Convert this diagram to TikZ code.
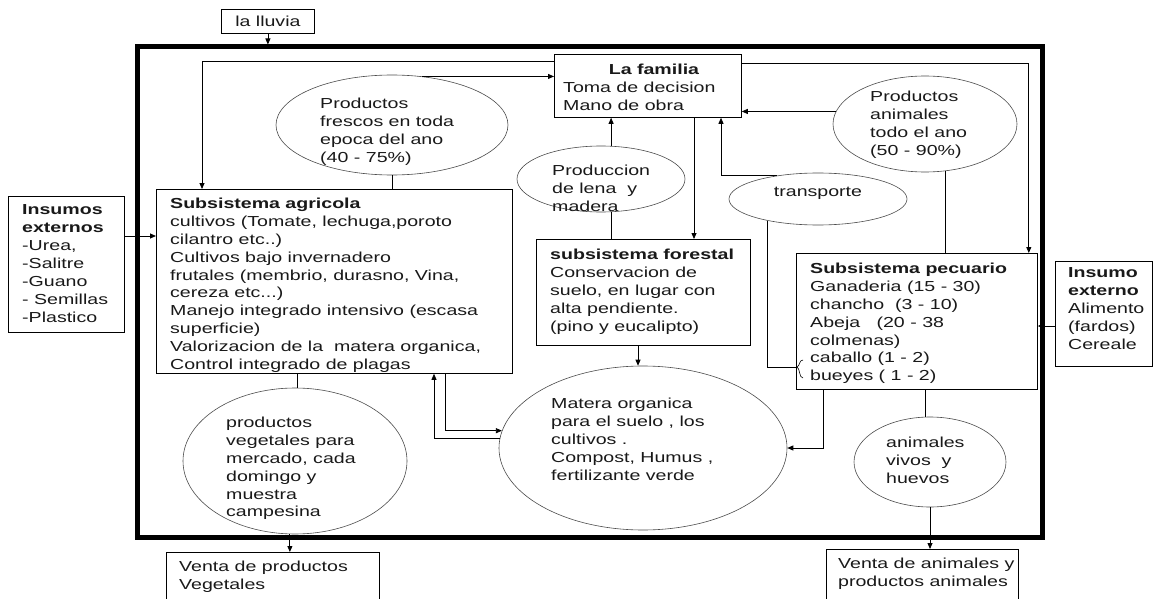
\documentclass[tikz,border=0pt]{standalone}
\usepackage{fontspec}
\setmainfont{Liberation Sans}[FakeStretch=1.35]
\usetikzlibrary{shapes.geometric,arrows.meta}
\begin{document}
\begin{tikzpicture}[x=1pt,y=-1pt,
  every node/.style={font=\fontsize{14.5}{17.9}\selectfont, text=black!90},
  box/.style={draw, line width=0.8pt, inner sep=0pt, anchor=north west},
  ell/.style={draw=black!70, line width=0.6pt, ellipse, inner sep=0pt},
  txt/.style={anchor=north west, inner sep=0pt, align=left},
  ln/.style={line width=0.8pt},
  arr/.style={line width=0.8pt, -{Triangle[length=6pt,width=5pt]}}]
\clip (0,0) rectangle (1154,599);
\fill[white] (0,0) rectangle (1154,599);
% frame
\node[draw, line width=5pt, inner sep=0pt, minimum width=905pt, minimum height=490pt] (frame) at (589.5,292) {};
% boxes
\node[box, minimum width=93pt, minimum height=24pt] (ll) at (221,9) {la lluvia};
\node[box, minimum width=187pt, minimum height=63pt] (fam) at (554,54) {};
\node[box, minimum width=356pt, minimum height=184pt] (agri) at (156,189) {};
\node[box, minimum width=116pt, minimum height=136pt] (ins) at (8,196) {};
\node[box, minimum width=214pt, minimum height=106pt] (for) at (536,239) {};
\node[box, minimum width=241pt, minimum height=136pt] (pec) at (796,253) {};
\node[box, minimum width=97pt, minimum height=105pt] (iex) at (1055,261) {};
\node[box, minimum width=213pt, minimum height=60pt] (vv) at (166,552) {};
\node[box, minimum width=192pt, minimum height=60pt] (va) at (826,549) {};
% ellipses
\node[ell, minimum width=232pt, minimum height=100pt] (pf) at (392,125) {};
\node[ell, minimum width=168pt, minimum height=66pt] (lena) at (601,179) {};
\node[ell, minimum width=178pt, minimum height=52pt] (tr) at (818,199) {};
\node[ell, minimum width=184pt, minimum height=96pt] (pa) at (925,124) {};
\node[ell, minimum width=288pt, minimum height=164pt] (mat) at (643,448) {};
\node[ell, minimum width=224pt, minimum height=146pt] (veg) at (295,461) {};
\node[ell, minimum width=152pt, minimum height=90pt] (av) at (930,462) {};
% texts
\node[inner sep=0pt] (famh) at (654,69) {\textbf{La familia}};
\node[txt] (famt) at (563,81.7) {Toma de decision\\Mano de obra};
\node[txt] (agrit) at (170,197.7) {\textbf{Subsistema agricola}\\cultivos (Tomate, lechuga,poroto\\cilantro etc..)\\Cultivos bajo invernadero\\frutales (membrio, durasno, Vina,\\cereza etc...)\\Manejo integrado intensivo (escasa\\superficie)\\Valorizacion de la\ \ matera organica,\\Control integrado de plagas};
\node[txt] (inst) at (22,204.7) {\textbf{Insumos}\\\textbf{externos}\\-Urea,\\-Salitre\\-Guano\\-\ Semillas\\-Plastico};
\node[txt] (pft) at (320,97.7) {Productos\\frescos en toda\\epoca del ano\\(40 - 75\%)};
\node[txt] (lent) at (552,164.7) {Produccion\\de lena\ \ y\\madera};
\node[txt] (fort) at (550,248.7) {\textbf{subsistema forestal}\\Conservacion de\\suelo, en lugar con\\alta pendiente.\\(pino y eucalipto)};
\node[inner sep=0pt, anchor=base] (trt) at (818,196) {transporte};
\node[txt] (pat) at (870,90.7) {Productos\\animales\\todo el ano\\(50 - 90\%)};
\node[txt] (pect) at (810,262.7) {\textbf{Subsistema pecuario}\\Ganaderia (15 - 30)\\chancho\ \ (3 - 10)\\Abeja\ \ \ (20 - 38\\colmenas)\\caballo (1 - 2)\\bueyes ( 1 - 2)};
\node[txt] (iext) at (1068,267.7) {\textbf{Insumo}\\\textbf{externo}\\Alimento\\(fardos)\\Cereale};
\node[txt] (matt) at (551,397.7) {Matera organica\\para el suelo , los\\cultivos .\\Compost, Humus ,\\fertilizante verde};
\node[txt] (vegt) at (226,416.7) {productos\\vegetales para\\mercado, cada\\domingo y\\muestra\\campesina};
\node[txt] (avt) at (886,436.7) {animales\\vivos\ \ y\\huevos};
\node[txt] (vvt) at (179,560.7) {Venta de productos\\Vegetales};
\node[txt] (vat) at (838,557.7) {Venta de animales y\\productos animales};
% brace
\coordinate (brace) at (797,367);
\draw[line width=0.6pt] (803,360) .. controls (799,360) and (800,366) .. (brace) .. controls (800,368) and (799,378) .. (803,378);
% connectors
\draw[arr] (ll.south) -- (ll.south |- frame.north);
\draw[arr] ([yshift=-7pt]fam.north west) -| ([xshift=46pt]agri.north west);
\draw[arr] (pf.58) -- (pf.58 -| fam.west);
\draw[ln] (pf.south) -- (pf.south |- agri.north);
\draw[arr] ([yshift=-40pt]ins.north east) coordinate (i1) -- (i1 -| agri.west);
\draw[arr] (lena.73) -- (lena.73 |- fam.south);
\draw[ln] (lena.287) -- (lena.287 |- for.north);
\draw[arr] ([xshift=140pt]fam.south west) coordinate (f1) -- (f1 |- for.north);
\draw[arr] (tr.150) -| ([xshift=167pt]fam.south west);
\draw[ln] (tr.203) |- (brace);
\draw[arr] (pa.172) -- (pa.172 -| fam.east);
\draw[ln] (pa.293) -- (pa.293 |- pec.north);
\draw[arr] ([yshift=-9pt]fam.north east) -| ([xshift=-9pt]pec.north east);
\draw[arr] ([yshift=-65pt]iex.north west) coordinate (i2) -- (i2 -| pec.east);
\draw[arr] ([xshift=102pt]for.south west) coordinate (f2) -- (f2 |- mat.north);
\draw[arr] (mat.176) -| ([xshift=278pt]agri.south west);
\draw[arr] ([xshift=289pt]agri.south west) |- (mat.173);
\draw[arr] ([xshift=27pt]pec.south west) |- (mat.east);
\draw[ln] ([xshift=129pt]pec.south west) coordinate (p2) -- (p2 |- av.north);
\draw[arr] (av.south) -- (av.south |- va.north);
\draw[ln] ([xshift=141pt]agri.south west) coordinate (a2) -- (a2 |- veg.north);
\draw[arr] (veg.266) -- (veg.266 |- vv.north);
\end{tikzpicture}
\end{document}
